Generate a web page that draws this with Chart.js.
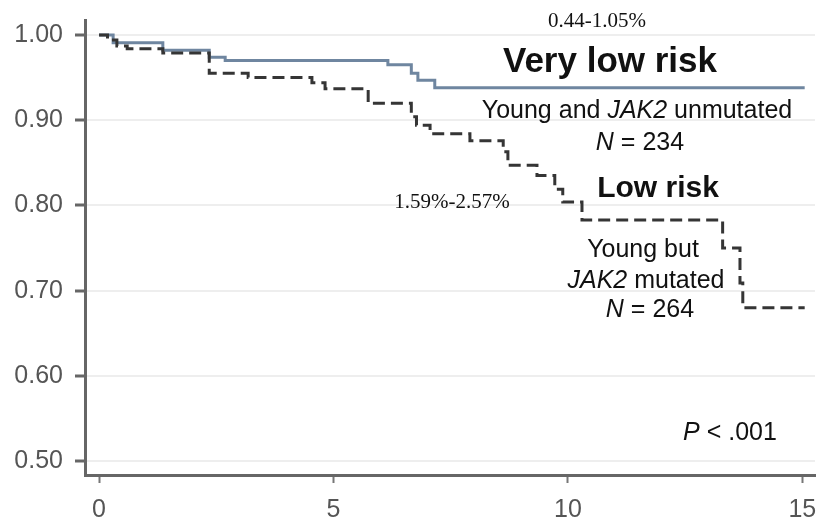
<!DOCTYPE html>
<html>
<head>
<meta charset="utf-8">
<script src="https://cdn.jsdelivr.net/npm/chart.js@4"></script>
<style>
  body { margin: 0; background: #fff; }
  #chart { display: block; }
</style>
</head>
<body>
<canvas id="chart" width="821" height="521"></canvas>
<script>
// Kaplan-Meier steps (years, survival after the step)
const veryLowTimes = [0, 0.30, 1.36, 2.35, 2.69, 6.16, 6.66, 6.80, 7.16, 15.05];
const veryLowSurv  = [1.00, 0.991, 0.982, 0.974, 0.970, 0.965, 0.955, 0.947, 0.938, 0.938];

const lowTimes = [0, 0.18, 0.38, 0.60, 1.36, 2.35, 3.18, 4.54, 4.82, 5.74, 6.66, 6.77, 7.06,
                  7.91, 8.62, 8.72, 9.34, 9.72, 9.89, 10.30, 13.30, 13.67, 13.73, 15.05];
const lowSurv  = [1.00, 0.994, 0.987, 0.984, 0.979, 0.955, 0.950, 0.944, 0.937, 0.920, 0.904, 0.894, 0.884,
                  0.876, 0.863, 0.847, 0.835, 0.819, 0.804, 0.783, 0.750, 0.709, 0.680, 0.680];

const xTicks = [0, 5, 10, 15];
const yTicks = [0.50, 0.60, 0.70, 0.80, 0.90, 1.00];

const toPoints = (xs, ys) => xs.map((x, i) => ({ x: x, y: ys[i] }));

// text labels drawn on top of the plot
const notes = [
  { runs: [{ t: "0.44-1.05%" }], x: 597, y: 27, font: "21px 'Liberation Serif', 'Times New Roman', serif" },
  { runs: [{ t: "Very low risk" }], x: 610, y: 72, font: "bold 35px 'Liberation Sans', Arial, sans-serif" },
  { runs: [{ t: "Young and " }, { t: "JAK2", it: true }, { t: " unmutated" }], x: 637, y: 118, size: 25 },
  { runs: [{ t: "N", it: true }, { t: " = 234" }], x: 640, y: 150, size: 25 },
  { runs: [{ t: "Low risk" }], x: 658, y: 197, font: "bold 30px 'Liberation Sans', Arial, sans-serif" },
  { runs: [{ t: "1.59%-2.57%" }], x: 452, y: 208, font: "21px 'Liberation Serif', 'Times New Roman', serif" },
  { runs: [{ t: "Young but" }], x: 643, y: 257, size: 25 },
  { runs: [{ t: "JAK2", it: true }, { t: " mutated" }], x: 646, y: 288, size: 25 },
  { runs: [{ t: "N", it: true }, { t: " = 264" }], x: 650, y: 317, size: 25 },
  { runs: [{ t: "P", it: true }, { t: " < .001" }], x: 730, y: 440, size: 25 }
];

const notesPlugin = {
  id: "notes",
  afterDraw(chart) {
    const ctx = chart.ctx;
    ctx.save();
    ctx.fillStyle = "#111";
    ctx.textBaseline = "alphabetic";
    ctx.textAlign = "left";
    notes.forEach(n => {
      const fonts = n.runs.map(r => n.font ||
        ((r.it ? "italic " : "") + n.size + "px 'Liberation Sans', Arial, sans-serif"));
      const widths = n.runs.map((r, i) => { ctx.font = fonts[i]; return ctx.measureText(r.t).width; });
      let x = n.x - widths.reduce((a, b) => a + b, 0) / 2;
      n.runs.forEach((r, i) => {
        ctx.font = fonts[i];
        ctx.fillText(r.t, x, n.y);
        x += widths[i];
      });
    });
    ctx.restore();
  }
};

const ctx = document.getElementById("chart").getContext("2d");
new Chart(ctx, {
  type: "line",
  data: {
    datasets: [
      {
        label: "Low risk",
        data: toPoints(lowTimes, lowSurv),
        stepped: true,
        borderColor: "#353535",
        borderWidth: 3,
        borderDash: [12, 6],
        pointRadius: 0,
        fill: false
      },
      {
        label: "Very low risk",
        data: toPoints(veryLowTimes, veryLowSurv),
        stepped: true,
        borderColor: "#6f86a0",
        borderWidth: 3,
        pointRadius: 0,
        fill: false
      }
    ]
  },
  options: {
    responsive: false,
    animation: false,
    layout: { padding: { top: 20, right: 6, left: 0, bottom: 0 } },
    plugins: {
      legend: { display: false },
      tooltip: { enabled: false }
    },
    scales: {
      x: {
        type: "linear",
        min: -0.3,
        max: 15.27,
        afterBuildTicks: scale => { scale.ticks = xTicks.map(v => ({ value: v })); },
        afterFit: scale => {
          scale.height = 46;
          scale.paddingLeft = 0;
          scale.paddingRight = 0;
        },
        border: { color: "#666", width: 3 },
        grid: { drawOnChartArea: false, tickLength: 8, tickColor: "#777", tickWidth: 2 },
        ticks: {
          color: "#555",
          padding: 12,
          maxRotation: 0,
          font: { family: "'Liberation Sans', Arial, sans-serif", size: 25 }
        }
      },
      y: {
        min: 0.4836,
        max: 1.0176,
        afterBuildTicks: scale => { scale.ticks = yTicks.map(v => ({ value: v })); },
        afterFit: scale => {
          scale.width = 85;
          scale.paddingTop = 0;
          scale.paddingBottom = 0;
        },
        border: { color: "#666", width: 3 },
        grid: { color: "#eeeeee", lineWidth: 2, tickLength: 10, tickColor: "#666", tickWidth: 3 },
        ticks: {
          color: "#555",
          padding: 12,
          callback: v => v.toFixed(2),
          font: { family: "'Liberation Sans', Arial, sans-serif", size: 25 }
        }
      }
    }
  },
  plugins: [notesPlugin]
});
</script>
</body>
</html>
